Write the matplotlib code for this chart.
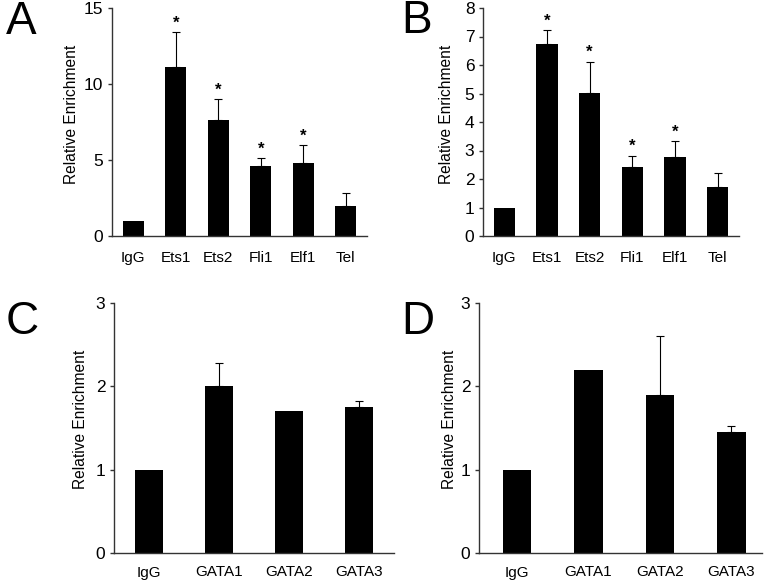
import matplotlib
matplotlib.use("Agg")
import matplotlib.pyplot as plt
import numpy as np

plt.rcParams["font.family"] = ["Liberation Sans", "DejaVu Sans"]

# Panel A / B: Ets family
ets_labels = ["IgG", "Ets1", "Ets2", "Fli1", "Elf1", "Tel"]
a_vals = [1.0, 11.1, 7.6, 4.6, 4.8, 2.0]
a_errs = [0.0, 2.3, 1.4, 0.5, 1.2, 0.8]
a_star = [False, True, True, True, True, False]

b_vals = [1.0, 6.75, 5.02, 2.42, 2.78, 1.72]
b_errs = [0.0, 0.47, 1.1, 0.4, 0.56, 0.5]
b_star = [False, True, True, True, True, False]

# Panel C / D: GATA family
gata_labels = ["IgG", "GATA1", "GATA2", "GATA3"]
c_vals = [1.0, 2.0, 1.7, 1.75]
c_errs = [0.0, 0.28, 0.0, 0.07]

d_vals = [1.0, 2.2, 1.9, 1.45]
d_errs = [0.0, 0.0, 0.71, 0.07]

W, H = 764, 585
fig = plt.figure(figsize=(W / 100, H / 100), dpi=100)


def px_axes(left, right, top, bottom):
    return fig.add_axes([left / W, 1 - bottom / H, (right - left) / W, (bottom - top) / H])


def panel(ax, labels, vals, errs, stars, width, ylim, yticks, xlim, label_px,
          xsize, xpad):
    x = np.arange(len(vals))
    ax.bar(x, vals, width=width, color="black", zorder=2)
    errs = np.array(errs)
    has = errs > 0
    ax.errorbar(x[has], np.array(vals)[has], yerr=[np.zeros(has.sum()), errs[has]],
                fmt="none", ecolor="black", elinewidth=0.8, capsize=3.2,
                capthick=0.8, zorder=3)
    for i, s in enumerate(stars):
        if s:
            ax.annotate("*", (x[i], vals[i] + errs[i]), xytext=(0, 1),
                        textcoords="offset points", ha="center", va="bottom",
                        fontsize=12, fontweight="bold")
    ax.set_xlim(*xlim)
    ax.set_ylim(*ylim)
    ax.set_yticks(yticks)
    ax.set_xticks(x)
    ax.set_xticklabels(labels)
    for side in ("top", "right"):
        ax.spines[side].set_visible(False)
    for side in ("left", "bottom"):
        ax.spines[side].set_color("#333333")
        ax.spines[side].set_linewidth(1.0)
    ax.tick_params(axis="x", length=0, pad=xpad, labelsize=xsize)
    ax.tick_params(axis="y", length=3, width=1.0, color="#333333", pad=3.2,
                   labelsize=12.5)
    ax.set_ylabel("Relative Enrichment", fontsize=11.2)
    w_px = ax.get_position().width * W
    ax.yaxis.set_label_coords(-label_px / w_px, 0.535)


ax_a = px_axes(112, 367, 8, 236)
panel(ax_a, ets_labels, a_vals, a_errs, a_star, 0.49, (0, 15), [0, 5, 10, 15],
      (-0.5, 5.5), 33, 11, 10.5)

ax_b = px_axes(483, 739, 8, 236)
panel(ax_b, ets_labels, b_vals, b_errs, b_star, 0.5, (0, 8), range(9),
      (-0.5, 5.5), 29, 11, 10.5)

ax_c = px_axes(114, 394, 303, 553)
panel(ax_c, gata_labels, c_vals, c_errs, [False] * 4, 0.41, (0, 3), [0, 1, 2, 3],
      (-0.5, 3.5), 26, 11, 9)

ax_d = px_axes(479, 762, 303, 553)
panel(ax_d, gata_labels, d_vals, d_errs, [False] * 4, 0.4, (0, 3), [0, 1, 2, 3],
      (-0.53, 3.43), 22, 11, 9)

for letter, xp, yp in [("A", 6, 34), ("B", 401, 33), ("C", 6, 334), ("D", 401, 334)]:
    fig.text(xp / W, 1 - yp / H, letter, fontsize=33, va="baseline", ha="left")

fig.savefig("out.png", dpi=100)
